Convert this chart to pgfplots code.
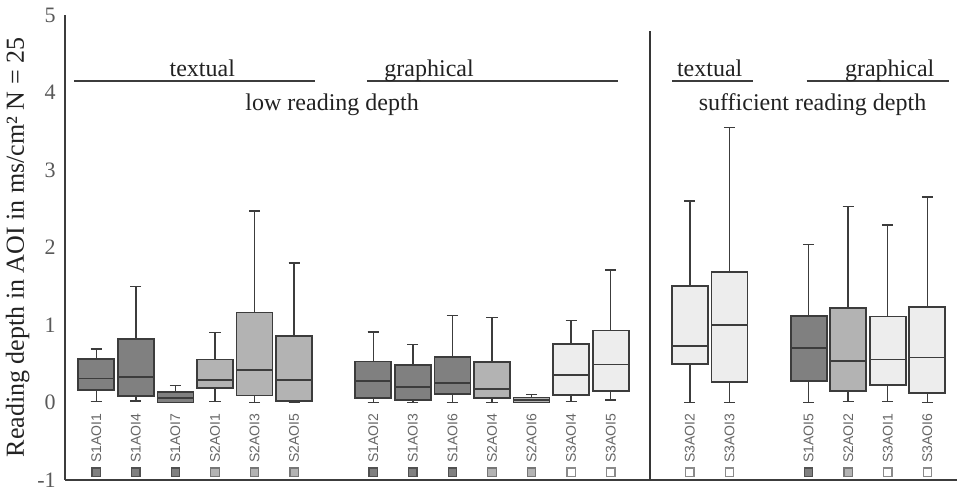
\documentclass[border=0pt]{standalone}
\usepackage{fontspec}
\setmainfont{Liberation Serif}
\setsansfont{Liberation Sans}
\usepackage{pgfplots}
\usepgfplotslibrary{statistics}
\pgfplotsset{compat=1.18}
\definecolor{sone}{HTML}{808080}
\definecolor{stwo}{HTML}{B3B3B3}
\definecolor{sthree}{HTML}{EDEDED}
\definecolor{edge}{HTML}{3C3C3C}
\definecolor{txt}{HTML}{222222}
\pgfplotsset{
  bx/.style={draw=edge, line width=0.9pt,
    boxplot/box extend=0.91, boxplot/whisker extend=0.28,
    boxplot/every whisker/.style={line width=0.7pt},
    boxplot/every median/.style={line width=0.9pt}},
  bxA/.style={bx, fill=sone},
  bxB/.style={bx, fill=stwo},
  bxC/.style={bx, fill=sthree},
}
\begin{document}
\begin{tikzpicture}
\begin{axis}[
  name=ax,
  scale only axis, width=446pt, height=232.5pt,
  xmin=0.21, xmax=22.75, ymin=-1, ymax=5,
  axis lines=left, axis line style={-, edge, line width=1pt},
  ytick={-1,0,1,2,3,4,5}, xtick=\empty,
  major tick length=0pt,
  /pgf/number format/assume math mode=true,
  yticklabel style={font=\fontsize{11}{13}\selectfont, text=black!65,
    inner sep=0pt, xshift=-4.5pt},
  ylabel={Reading depth in AOI in ms/cm² N = 25},
  ylabel style={at={(axis description cs:-0.053,0.5)}, anchor=center,
    font=\fontsize{13}{15}\selectfont, text=txt},
  boxplot/draw direction=y,
  clip=false,
]
% low reading depth, textual
\addplot[bxA, boxplot prepared={draw position=1, lower whisker=0.01, lower quartile=0.16, median=0.31, upper quartile=0.56, upper whisker=0.69}] coordinates {};
\addplot[bxA, boxplot prepared={draw position=2, lower whisker=0.02, lower quartile=0.08, median=0.33, upper quartile=0.82, upper whisker=1.50}] coordinates {};
\addplot[bxA, boxplot prepared={draw position=3, lower whisker=0.0, lower quartile=0.0, median=0.055, upper quartile=0.14, upper whisker=0.22}] coordinates {};
\addplot[bxB, boxplot prepared={draw position=4, lower whisker=0.01, lower quartile=0.19, median=0.29, upper quartile=0.555, upper whisker=0.90}] coordinates {};
\addplot[bxB, boxplot prepared={draw position=5, lower whisker=0.0, lower quartile=0.09, median=0.42, upper quartile=1.16, upper whisker=2.47}] coordinates {};
\addplot[bxB, boxplot prepared={draw position=6, lower whisker=0.0, lower quartile=0.02, median=0.29, upper quartile=0.86, upper whisker=1.80}] coordinates {};
% low reading depth, graphical
\addplot[bxA, boxplot prepared={draw position=8, lower whisker=0.0, lower quartile=0.06, median=0.28, upper quartile=0.53, upper whisker=0.91}] coordinates {};
\addplot[bxA, boxplot prepared={draw position=9, lower whisker=0.0, lower quartile=0.035, median=0.20, upper quartile=0.48, upper whisker=0.75}] coordinates {};
\addplot[bxA, boxplot prepared={draw position=10, lower whisker=0.0, lower quartile=0.11, median=0.25, upper quartile=0.59, upper whisker=1.12}] coordinates {};
\addplot[bxB, boxplot prepared={draw position=11, lower whisker=0.0, lower quartile=0.06, median=0.17, upper quartile=0.52, upper whisker=1.10}] coordinates {};
\addplot[bxB, boxplot prepared={draw position=12, lower whisker=0.0, lower quartile=0.0, median=0.03, upper quartile=0.065, upper whisker=0.10}] coordinates {};
\addplot[bxC, boxplot prepared={draw position=13, lower whisker=0.01, lower quartile=0.10, median=0.35, upper quartile=0.75, upper whisker=1.06}] coordinates {};
\addplot[bxC, boxplot prepared={draw position=14, lower whisker=0.03, lower quartile=0.145, median=0.49, upper quartile=0.93, upper whisker=1.71}] coordinates {};
% sufficient reading depth
\addplot[bxC, boxplot prepared={draw position=16, lower whisker=0.0, lower quartile=0.50, median=0.73, upper quartile=1.50, upper whisker=2.60}] coordinates {};
\addplot[bxC, boxplot prepared={draw position=17, lower whisker=0.0, lower quartile=0.26, median=1.00, upper quartile=1.68, upper whisker=3.55}] coordinates {};
\addplot[bxA, boxplot prepared={draw position=19, lower whisker=0.0, lower quartile=0.28, median=0.70, upper quartile=1.12, upper whisker=2.04}] coordinates {};
\addplot[bxB, boxplot prepared={draw position=20, lower whisker=0.01, lower quartile=0.145, median=0.54, upper quartile=1.22, upper whisker=2.53}] coordinates {};
\addplot[bxC, boxplot prepared={draw position=21, lower whisker=0.01, lower quartile=0.23, median=0.555, upper quartile=1.11, upper whisker=2.29}] coordinates {};
\addplot[bxC, boxplot prepared={draw position=22, lower whisker=0.0, lower quartile=0.12, median=0.58, upper quartile=1.23, upper whisker=2.65}] coordinates {};

% colour keys under the names
\addplot[only marks, mark=square*, mark size=2.1pt, mark options={draw=edge!90, fill=sone, line width=0.6pt}]
  coordinates {(1,-0.9) (2,-0.9) (3,-0.9) (8,-0.9) (9,-0.9) (10,-0.9) (19,-0.9)};
\addplot[only marks, mark=square*, mark size=2.1pt, mark options={draw=edge!70, fill=stwo, line width=0.6pt}]
  coordinates {(4,-0.9) (5,-0.9) (6,-0.9) (11,-0.9) (12,-0.9) (20,-0.9)};
\addplot[only marks, mark=square*, mark size=2.1pt, mark options={draw=edge!60, fill=white, line width=0.6pt}]
  coordinates {(13,-0.9) (14,-0.9) (16,-0.9) (17,-0.9) (21,-0.9) (22,-0.9)};

% names
\tikzset{nm/.style={rotate=90, anchor=east, inner sep=0pt, text=black!60, font=\sffamily\fontsize{7}{8}\selectfont}}
\node[nm] at (axis cs:1,-0.14) {S1AOI1};
\node[nm] at (axis cs:2,-0.14) {S1AOI4};
\node[nm] at (axis cs:3,-0.14) {S1AOI7};
\node[nm] at (axis cs:4,-0.14) {S2AOI1};
\node[nm] at (axis cs:5,-0.14) {S2AOI3};
\node[nm] at (axis cs:6,-0.14) {S2AOI5};
\node[nm] at (axis cs:8,-0.14) {S1AOI2};
\node[nm] at (axis cs:9,-0.14) {S1AOI3};
\node[nm] at (axis cs:10,-0.14) {S1AOI6};
\node[nm] at (axis cs:11,-0.14) {S2AOI4};
\node[nm] at (axis cs:12,-0.14) {S2AOI6};
\node[nm] at (axis cs:13,-0.14) {S3AOI4};
\node[nm] at (axis cs:14,-0.14) {S3AOI5};
\node[nm] at (axis cs:16,-0.14) {S3AOI2};
\node[nm] at (axis cs:17,-0.14) {S3AOI3};
\node[nm] at (axis cs:19,-0.14) {S1AOI5};
\node[nm] at (axis cs:20,-0.14) {S2AOI2};
\node[nm] at (axis cs:21,-0.14) {S3AOI1};
\node[nm] at (axis cs:22,-0.14) {S3AOI6};

% group headings
\tikzset{hd/.style={anchor=base, inner sep=0pt, text=txt, font=\fontsize{12}{14}\selectfont}}
\draw[edge, line width=0.8pt] (axis cs:0.44,4.15) -- (axis cs:6.53,4.15);
\draw[edge, line width=0.8pt] (axis cs:7.84,4.15) -- (axis cs:14.18,4.15);
\draw[edge, line width=0.8pt] (axis cs:15.55,4.15) -- (axis cs:17.59,4.15);
\draw[edge, line width=0.8pt] (axis cs:18.95,4.15) -- (axis cs:22.54,4.15);
\node[hd] at (axis cs:3.68,4.21) {textual};
\node[hd] at (axis cs:9.41,4.21) {graphical};
\node[hd] at (axis cs:16.5,4.21) {textual};
\node[hd] at (axis cs:21.05,4.21) {graphical};
\node[hd] at (axis cs:6.96,3.77) {low reading depth};
\node[hd] at (axis cs:19.1,3.77) {sufficient reading depth};
\draw[edge!90!black, line width=1pt] (axis cs:15,4.79) -- (axis cs:15,-1);
\end{axis}
\pgfresetboundingbox
\path ([xshift=-32.5pt,yshift=-6pt]ax.south west) rectangle ([yshift=7.5pt]ax.north east);
\end{tikzpicture}
\end{document}
